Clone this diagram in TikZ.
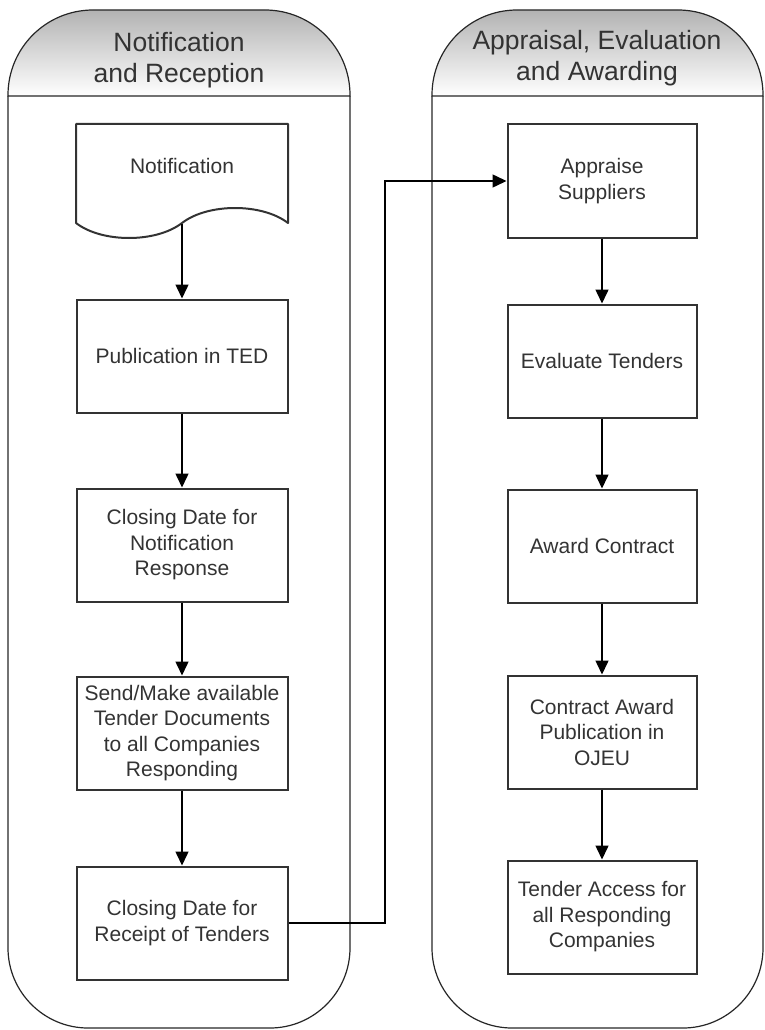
\documentclass[tikz,border=0pt]{standalone}
\usepackage{fontspec}
\setmainfont{Liberation Sans}
\usetikzlibrary{arrows.meta, positioning}

\definecolor{txtgray}{HTML}{333333}
\definecolor{linegray}{HTML}{333333}

\begin{document}
\begin{tikzpicture}[
  x=1pt, y=-1pt,
  lane/.style={draw=black!85, line width=1.2pt},
  lanehead/.style={top color=black!30, bottom color=white, draw=black!85, line width=1.2pt},
  headtext/.style={align=center, text=txtgray, font=\fontsize{26.5}{31}\selectfont},
  stepleft/.style={draw=linegray, line width=2pt, minimum width=211pt, minimum height=113pt,
    inner sep=0pt, align=center, text=txtgray, font=\fontsize{21}{25.5}\selectfont},
  stepright/.style={stepleft, minimum width=189pt},
  docline/.style={draw=linegray, line width=2pt, line join=round},
  flow/.style={draw=black, line width=1.5pt, -{Triangle[length=14pt,width=13pt]}}
  ]

  \useasboundingbox (0,0) rectangle (765,1030);

  % swimlanes
  \foreach \l/\r in {8/350, 432/763} {
    \draw[lane] (\l,96) -- (\l,948) .. controls (\l,992) and (\l+36,1028) .. (\l+80,1028)
      -- (\r-80,1028) .. controls (\r-36,1028) and (\r,992) .. (\r,948) -- (\r,96);
    \draw[lanehead] (\l,96) -- (\l,95) .. controls (\l,48) and (\l+38,10) .. (\l+85,10)
      -- (\r-85,10) .. controls (\r-38,10) and (\r,48) .. (\r,95) -- (\r,96) -- cycle;
  }
  \node[headtext] (headnotif) at (179,60) {Notification\\and Reception};
  \node[headtext] (headaward) at (597,58) {Appraisal, Evaluation\\and Awarding};

  % left lane
  \draw[docline] (76,124) -- (288,124) -- (288,223)
    .. controls (262,203) and (208,203) .. (182,223)
    .. controls (156,243) and (102,243) .. (76,223) -- cycle;
  \node[stepleft, draw=none, minimum height=84pt] (notif) at (182,166) {Notification};
  \coordinate (notifend) at (182,224);

  \node[stepleft] (pub) at (182,356) {Publication in TED};
  \node[stepleft] (closenotif) at (182,545) {Closing Date for\\Notification\\Response};
  \node[stepleft] (send) at (182,733) {Send/Make available\\Tender Documents\\to all Companies\\Responding};
  \node[stepleft] (receipt) at (182,923) {Closing Date for\\Receipt of Tenders};

  % right lane
  \node[stepright] (appraise) at (602,181) {Appraise\\Suppliers};
  \node[stepright] (evaluate) at (602,361) {Evaluate Tenders};
  \node[stepright] (award) at (602,546) {Award Contract};
  \node[stepright] (publish) at (602,732) {Contract Award\\Publication in\\OJEU};
  \node[stepright] (access) at (602,917) {Tender Access for\\all Responding\\Companies};

  \draw[flow] (notifend) -- (pub);
  \draw[flow] (pub) -- (closenotif);
  \draw[flow] (closenotif) -- (send);
  \draw[flow] (send) -- (receipt);

  \coordinate (turn) at (385,181);
  \draw[flow] (receipt.east) -| (turn) -- (appraise.west);

  \draw[flow] (appraise) -- (evaluate);
  \draw[flow] (evaluate) -- (award);
  \draw[flow] (award) -- (publish);
  \draw[flow] (publish) -- (access);

\end{tikzpicture}
\end{document}
